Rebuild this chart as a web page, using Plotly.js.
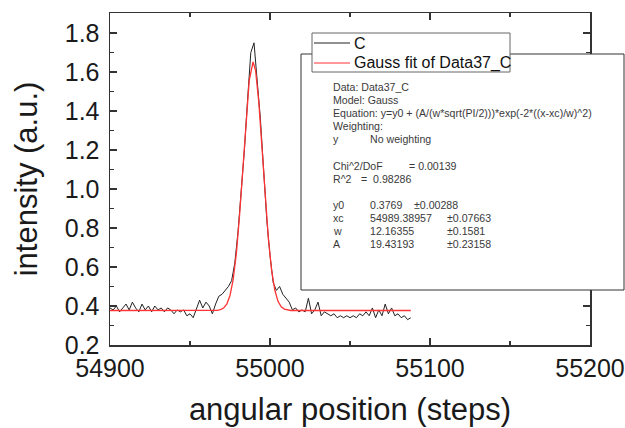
<!DOCTYPE html>
<html>
<head>
<meta charset="utf-8">
<script src="https://cdn.plot.ly/plotly-3.0.1.min.js"></script>
<style>html,body{margin:0;padding:0;background:#fff;}#chart{width:625px;height:428px;}</style>
</head>
<body>
<div id="chart"></div>
<script>
// measured data C
const dataX = [54900,54902,54904,54906,54908,54910,54912,54914,54916,54918,54920,54922,54924,54926,54928,54930,54932,54934,54936,54938,
54940,54942,54944,54946,54948,54950,54952,54954,54956,54958,54960,54962,54964,54966,54968,54970,54972,54974,54976,54978,
54980,54982,54984,54986,54988,54990,54992,54994,54996,54998,55000,55002,55004,55006,55008,55010,55012,55014,55016,55018,
55020,55022,55024,55026,55028,55030,55032,55034,55036,55038,55040,55042,55044,55046,55048,55050,55052,55054,55056,55058,
55060,55062,55064,55066,55068,55070,55072,55074,55076,55078,55080,55082,55084,55086,55088];
const dataY = [0.39,0.38,0.40,0.37,0.39,0.41,0.38,0.42,0.39,0.37,0.41,0.38,0.40,0.37,0.40,0.38,0.39,0.37,0.39,0.38,
0.36,0.38,0.37,0.38,0.35,0.36,0.34,0.38,0.43,0.39,0.42,0.40,0.36,0.41,0.45,0.46,0.48,0.50,0.53,0.62,
0.78,0.99,1.20,1.46,1.70,1.75,1.55,1.36,1.10,0.84,0.66,0.52,0.48,0.50,0.46,0.44,0.42,0.38,0.39,0.37,
0.38,0.37,0.44,0.36,0.38,0.42,0.35,0.37,0.36,0.35,0.36,0.34,0.35,0.34,0.35,0.34,0.35,0.34,0.36,0.35,
0.37,0.35,0.39,0.34,0.38,0.35,0.41,0.36,0.39,0.35,0.36,0.34,0.35,0.33,0.34];
// Gauss fit curve
const fitX = [54900,54960,54965,54967,54969,54971,54973,54975,54977,54979,54981,54983,54985,54987,54989.4,
54991,54993,54995,54997,54999,55001,55003,55005,55007,55009,55013,55020,55088];
const fitY = [0.377,0.377,0.378,0.378,0.382,0.390,0.410,0.454,0.536,0.672,0.868,1.110,1.358,1.556,1.652,
1.608,1.446,1.211,0.961,0.744,0.584,0.482,0.424,0.396,0.384,0.377,0.377,0.377];
const xTicks = [54900,55000,55100,55200];
const yTicks = [0.2,0.4,0.6,0.8,1.0,1.2,1.4,1.6,1.8];
const seriesNames = ["C","Gauss fit of Data37_C"];
const seriesColors = ["#222222","#ff3333"];
const infoLines = [
  ["Data: Data37_C"],
  ["Model: Gauss"],
  ["Equation: y=y0 + (A/(w*sqrt(PI/2)))*exp(-2*((x-xc)/w)^2)"],
  ["Weighting:"],
  ["y","No weighting"],
  [],
  ["Chi^2/DoF","= 0.00139"],
  ["R^2","=  0.98286"],
  [],
  ["y0","0.3769","±0.00288"],
  ["xc","54989.38957","±0.07663"],
  ["w","12.16355","±0.1581"],
  ["A","19.43193","±0.23158"]
];

const L=110, R=590, T=13, B=345;
function px(x){return (x-L)/(R-L);}
function py(y){return (B-y)/(B-T);}
const FONT="Arial, 'Liberation Sans', sans-serif";
const ann=[];
const lineY0=87, lineStep=13.1;
infoLines.forEach((ln,i)=>{
  const yy=lineY0+i*lineStep;
  if(!ln.length) return;
  let cols;
  if(ln.length===1) cols=[331];
  else if(ln[0]==="Chi^2/DoF") cols=[331,407];
  else if(ln[0]==="R^2") cols=[331,359];
  else if(ln.length===2) cols=[331,368];
  else if(ln[0]==="y0") cols=[331,368,412];
  else cols=[331,368,445];
  ln.forEach((t,j)=>{
    ann.push({text:t,xref:'paper',yref:'paper',x:px(cols[j]),y:py(yy),xanchor:'left',yanchor:'middle',
      showarrow:false,font:{family:FONT,size:10.6,color:'#3a3a3a'}});
  });
});
// legend (drawn manually to match the compact box)
const legRows=[43,63];
const shapes=[{type:'rect',xref:'paper',yref:'paper',x0:px(301),x1:px(624),y0:py(290),y1:py(54),
    line:{color:'#333',width:1},fillcolor:'#fff',layer:'above'},
  {type:'rect',xref:'paper',yref:'paper',x0:px(312),x1:px(510),y0:py(72),y1:py(33),
    line:{color:'#666',width:1},fillcolor:'#fff',layer:'above'}];
seriesNames.forEach((n,i)=>{
  shapes.push({type:'line',xref:'paper',yref:'paper',x0:px(314),x1:px(350),y0:py(legRows[i]),y1:py(legRows[i]),
    line:{color:seriesColors[i],width:1.2},layer:'above'});
  ann.push({text:n,xref:'paper',yref:'paper',x:px(352),y:py(legRows[i]),xanchor:'left',yanchor:'middle',
    showarrow:false,font:{family:FONT,size:16,color:'#111'}});
});

const traces=[
  {x:dataX,y:dataY,type:'scatter',mode:'lines',name:seriesNames[0],line:{color:seriesColors[0],width:1}},
  {x:fitX,y:fitY,type:'scatter',mode:'lines',name:seriesNames[1],line:{color:seriesColors[1],width:1.3}}
];
const axisCommon={showline:true,linecolor:'#333',linewidth:1.5,mirror:'ticks',ticks:'inside',ticklen:7,tickwidth:1.3,
  tickcolor:'#333',showgrid:false,zeroline:false,tickfont:{family:FONT,size:25,color:'#1a1a1a'}};
const layout={
  width:625,height:428,margin:{l:L,r:625-R,t:T,b:428-B},paper_bgcolor:'#fff',plot_bgcolor:'#fff',
  showlegend:false,
  xaxis:Object.assign({},axisCommon,{range:[54900,55200],tickvals:xTicks,ticktext:xTicks.map(String),
    minor:{dtick:50,ticks:'inside',ticklen:4,tickcolor:'#333'},
    title:{text:'angular position (steps)',font:{family:FONT,size:31,color:'#1a1a1a'},standoff:18}}),
  yaxis:Object.assign({},axisCommon,{range:[0.2,1.903],tickvals:yTicks,ticktext:yTicks.map(v=>v.toFixed(1)),
    minor:{dtick:0.1,ticks:'inside',ticklen:4,tickcolor:'#333'},ticklabelstandoff:4,
    title:{text:'intensity (a.u.)',font:{family:FONT,size:31,color:'#1a1a1a'},standoff:18}}),
  shapes:shapes,
  annotations:ann
};
Plotly.newPlot('chart',traces,layout,{displayModeBar:false,staticPlot:true});
</script>
</body>
</html>
